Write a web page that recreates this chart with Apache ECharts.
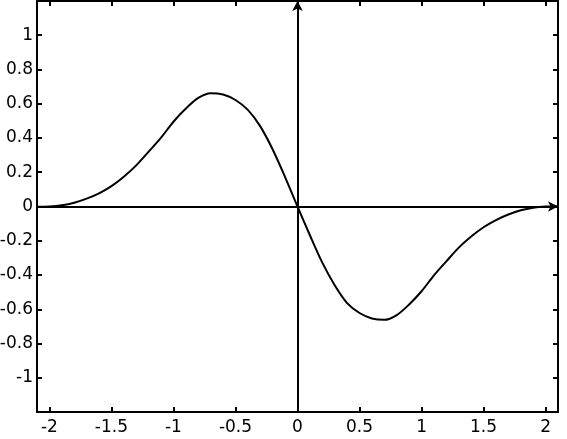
<!DOCTYPE html>
<html>
<head>
<meta charset="utf-8">
<script src="https://cdn.jsdelivr.net/npm/echarts@6/dist/echarts.min.js"></script>
<style>
html,body{margin:0;padding:0;background:#fff;}
#chart{width:567px;height:439px;}
</style>
</head>
<body>
<div id="chart"></div>
<script>
// Axis ranges and tick labels
const X_MIN = -2.1, X_MAX = 2.1;
const Y_MIN = -1.2, Y_MAX = 1.2;
const xTicks = [-2, -1.5, -1, -0.5, 0, 0.5, 1, 1.5, 2];
const yTicks = [-1, -0.8, -0.6, -0.4, -0.2, 0, 0.2, 0.4, 0.6, 0.8, 1];

// Curve samples
const xs = [-2.1, -2.0, -1.9, -1.8, -1.7, -1.6, -1.5, -1.4, -1.3, -1.2, -1.1,
            -1.0, -0.9, -0.8, -0.7, -0.6, -0.5, -0.4, -0.3, -0.2, -0.1, 0,
            0.1, 0.2, 0.3, 0.4, 0.5, 0.6, 0.7, 0.8, 0.9, 1.0,
            1.1, 1.2, 1.3, 1.4, 1.5, 1.6, 1.7, 1.8, 1.9, 2.0, 2.1];
const ys = [-0.002, 0.0, 0.007, 0.022, 0.046, 0.077, 0.119, 0.174, 0.240, 0.320, 0.402,
            0.495, 0.572, 0.634, 0.662, 0.654, 0.622, 0.564, 0.468, 0.333, 0.172, 0,
            -0.168, -0.328, -0.460, -0.564, -0.622, -0.654, -0.662, -0.634, -0.572, -0.495,
            -0.402, -0.320, -0.240, -0.175, -0.121, -0.079, -0.047, -0.022, -0.007, 0.0, 0.002];

const data = xs.map((x, i) => [x, ys[i]]);

const FONT = 'DejaVu Sans';
const black = '#000';

function fmt(v) { return String(Math.round(v * 10) / 10); }

const chart = echarts.init(document.getElementById('chart'), null, {renderer: 'canvas'});
chart.setOption({
  animation: false,
  backgroundColor: '#fff',
  grid: {left: 37, right: 9, top: 1, bottom: 27, containLabel: false, outerBoundsMode: 'none'},
  xAxis: [
    {
      type: 'value', min: X_MIN, max: X_MAX, position: 'bottom',
      axisLine: {show: true, onZero: false, lineStyle: {color: black, width: 2}},
      axisTick: {show: true, inside: true, length: 5, customValues: xTicks, lineStyle: {color: black, width: 2}},
      axisLabel: {show: true, customValues: xTicks, margin: 7, color: black,
                  fontFamily: FONT, fontSize: 17, formatter: fmt},
      splitLine: {show: false}
    },
    {
      type: 'value', min: X_MIN, max: X_MAX, position: 'top',
      axisLine: {show: true, onZero: false, lineStyle: {color: black, width: 2}},
      axisTick: {show: true, inside: true, length: 5, customValues: xTicks, lineStyle: {color: black, width: 2}},
      axisLabel: {show: false},
      splitLine: {show: false}
    }
  ],
  yAxis: [
    {
      type: 'value', min: Y_MIN, max: Y_MAX, position: 'left',
      axisLine: {show: true, onZero: false, lineStyle: {color: black, width: 2}},
      axisTick: {show: true, inside: true, length: 5, customValues: yTicks, lineStyle: {color: black, width: 2}},
      axisLabel: {show: true, customValues: yTicks, margin: 4, color: black,
                  fontFamily: FONT, fontSize: 17, formatter: fmt},
      splitLine: {show: false}
    },
    {
      type: 'value', min: Y_MIN, max: Y_MAX, position: 'right',
      axisLine: {show: true, onZero: false, lineStyle: {color: black, width: 2}},
      axisTick: {show: true, inside: true, length: 5, customValues: yTicks, lineStyle: {color: black, width: 2}},
      axisLabel: {show: false},
      splitLine: {show: false}
    }
  ],
  series: [
    {
      type: 'line',
      xAxisIndex: 0, yAxisIndex: 0,
      data: data,
      smooth: 0.3,
      showSymbol: false,
      clip: false,
      lineStyle: {color: black, width: 2},
      markLine: {
        silent: true,
        symbol: ['none', 'arrow'],
        symbolSize: [8, 10],
        label: {show: false},
        lineStyle: {color: black, width: 2, type: 'solid'},
        emphasis: {disabled: true},
        data: [
          [{coord: [X_MIN, 0]}, {coord: [X_MAX, 0]}],
          [{coord: [0, Y_MIN]}, {coord: [0, Y_MAX]}]
        ]
      }
    }
  ]
});
</script>
</body>
</html>
